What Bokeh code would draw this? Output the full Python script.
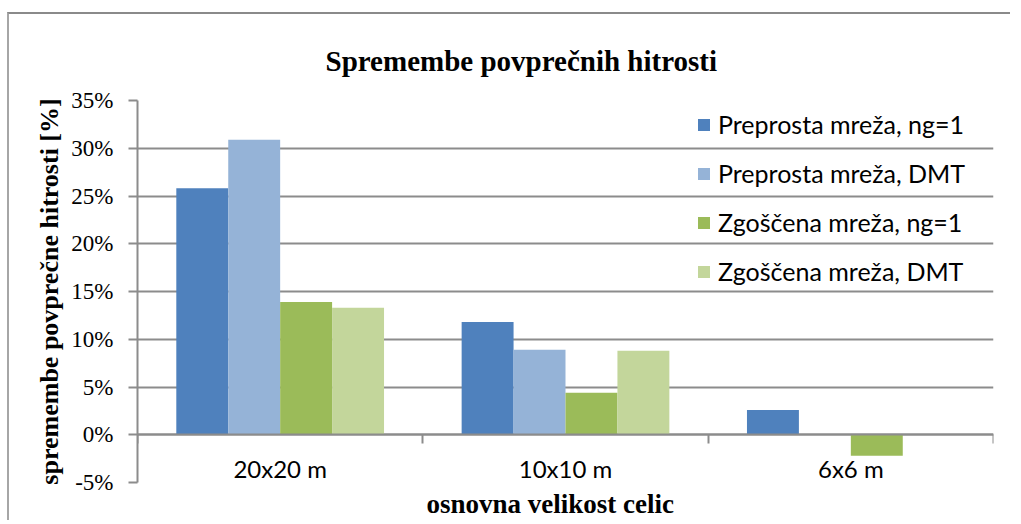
from bokeh.plotting import figure
from bokeh.models import (ColumnDataSource, Range1d, FixedTicker, LinearAxis,
                          PrintfTickFormatter, Legend, Title)
from bokeh.transform import dodge
from bokeh.embed import file_html
from bokeh.resources import INLINE

# ---- data ----
categories = ["20x20 m", "10x10 m", "6x6 m"]
series_names = ["Preprosta mreža, ng=1", "Preprosta mreža, DMT",
                "Zgoščena mreža, ng=1", "Zgoščena mreža, DMT"]
preprosta_ng1 = [25.8, 11.8, 2.6]
preprosta_dmt = [30.9, 8.9, 0.0]
zgoscena_ng1 = [13.9, 4.4, -2.2]
zgoscena_dmt = [13.3, 8.8, 0.0]
y_ticks = [-5, 0, 5, 10, 15, 20, 25, 30, 35]

colors = ["#4F81BD", "#95B3D7", "#9BBB59", "#C3D69B"]
series = [preprosta_ng1, preprosta_dmt, zgoscena_ng1, zgoscena_dmt]

centers = [i + 0.5 for i in range(len(categories))]
data = {"x": centers}
for k, s in enumerate(series):
    data[f"s{k}"] = s
src = ColumnDataSource(data)

GRID = "#8c8c8c"
SERIF = "Liberation Serif"
SANS = "Lato"

p = figure(width=1003, height=508, output_backend="svg", toolbar_location=None,
           x_range=Range1d(0, len(categories)), y_range=Range1d(-5, 35),
           x_axis_location=None, y_axis_location="left",
           min_border_left=128, min_border_top=86, min_border_right=19,
           min_border_bottom=33)
p.styles = {"border-top": "2px solid #8a8a8a", "border-left": "2px solid #a6a6a6",
            "margin-top": "12px", "margin-left": "7px"}
p.outline_line_color = None
p.background_fill_color = "white"
p.border_fill_color = "white"

# title
p.title.text = "Spremembe povprečnih hitrosti"
p.title.text_font = SERIF
p.title.text_font_size = "29px"
p.title.text_font_style = "bold"
p.title.text_color = "black"
p.title.align = "left"
p.title.offset = 188
p.title.vertical_align = "top"
p.title.text_line_height = 1.3
p.title.standoff = 43

bw = 0.182
offsets = [-1.5 * bw, -0.5 * bw, 0.5 * bw, 1.5 * bw]
renderers = []
for k in range(4):
    r = p.vbar(x=dodge("x", offsets[k], range=p.x_range), top=f"s{k}", bottom=0,
               width=bw, source=src, fill_color=colors[k], line_color=None)
    renderers.append(r)

# y axis
yax = p.yaxis[0]
yax.ticker = FixedTicker(ticks=y_ticks)
yax.formatter = PrintfTickFormatter(format="%d%%")
yax.major_label_text_font = SERIF
yax.major_label_text_font_size = "23px"
yax.major_label_text_color = "black"
yax.major_tick_out = 9
yax.major_tick_in = 0
yax.minor_tick_out = 0
yax.minor_tick_in = 0
yax.major_label_standoff = 15
yax.axis_line_color = GRID
yax.axis_line_width = 2
yax.major_tick_line_color = GRID
yax.major_tick_line_width = 2
yax.axis_label = "spremembe povprečne hitrosti [%]"
yax.axis_label_text_font = SERIF
yax.axis_label_text_font_size = "26px"
yax.axis_label_text_font_style = "bold"
yax.axis_label_text_color = "black"
yax.axis_label_standoff = 4

p.ygrid.ticker = FixedTicker(ticks=y_ticks)
p.ygrid.grid_line_color = GRID
p.ygrid.grid_line_width = 2
p.xgrid.visible = False

# x axis at y = 0
xax = LinearAxis(fixed_location=0,
                 ticker=FixedTicker(ticks=centers, minor_ticks=list(range(len(categories) + 1))),
                 major_label_overrides={c: lab for c, lab in zip(centers, categories)})
xax.major_tick_out = 0
xax.major_tick_in = 0
xax.minor_tick_out = 9
xax.minor_tick_in = 0
xax.minor_tick_line_color = GRID
xax.minor_tick_line_width = 2
xax.axis_line_color = GRID
xax.axis_line_width = 2
xax.major_label_text_font = SANS
xax.major_label_text_font_size = "24px"
xax.major_label_text_color = "black"
xax.major_label_standoff = 10
p.add_layout(xax, "below")

xt = Title(text="osnovna velikost celic", text_font=SERIF, text_font_size="27px",
           text_font_style="bold", text_color="black", align="left", offset=289,
           vertical_align="bottom", standoff=8)
p.add_layout(xt, "below")

legend = Legend(items=[(n, [r]) for n, r in zip(series_names, renderers)],
                location=(559, 193))
legend.background_fill_alpha = 0
legend.border_line_alpha = 0
legend.padding = 0
legend.margin = 0
legend.glyph_width = 15
legend.glyph_height = 15
legend.label_height = 36
legend.spacing = 13
legend.label_standoff = 7
legend.label_text_font = SANS
legend.label_text_font_size = "25px"
legend.label_text_color = "black"
p.add_layout(legend, "center")

open("out.html", "w").write(file_html(p, INLINE))
